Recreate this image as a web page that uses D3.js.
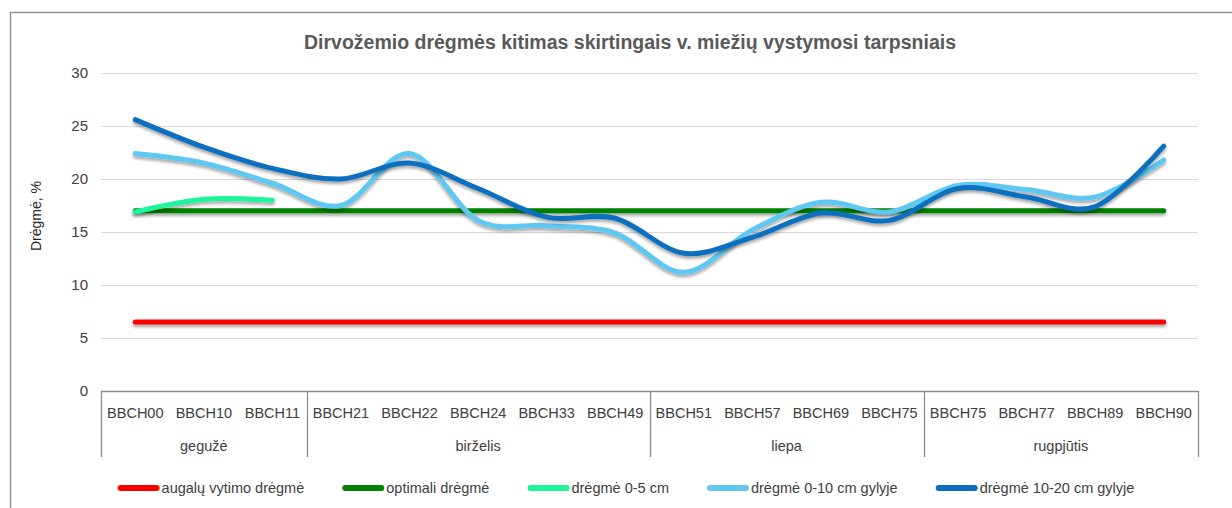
<!DOCTYPE html>
<html>
<head>
<meta charset="utf-8">
<script src="https://cdn.jsdelivr.net/npm/d3@7"></script>
<style>
  body { margin: 0; background: #fff; }
  svg { display: block; }
</style>
</head>
<body>
<div id="chart"></div>
<script>
// chart data
var stages = ["BBCH00", "BBCH10", "BBCH11", "BBCH21", "BBCH22", "BBCH24", "BBCH33", "BBCH49",
              "BBCH51", "BBCH57", "BBCH69", "BBCH75", "BBCH75", "BBCH77", "BBCH89", "BBCH90"];
var months = ["gegužė", "birželis", "liepa", "rugpjūtis"];
var monthSizes = [3, 5, 4, 4];
var yTicks = [0, 5, 10, 15, 20, 25, 30];

var wilting = [6.5, 6.5, 6.5, 6.5, 6.5, 6.5, 6.5, 6.5, 6.5, 6.5, 6.5, 6.5, 6.5, 6.5, 6.5, 6.5];
var optimal = [17, 17, 17, 17, 17, 17, 17, 17, 17, 17, 17, 17, 17, 17, 17, 17];
var moist0_5 = [16.9, 18.1, 18.0];
var moist0_10 = [22.4, 21.5, 19.6, 17.5, 22.4, 16.1, 15.6, 14.9, 11.2, 15.2, 17.8, 16.9, 19.4, 19.0, 18.3, 21.8];
var moist10_20 = [25.6, 23.0, 21.0, 20.0, 21.5, 19.1, 16.4, 16.3, 13.0, 14.5, 16.8, 16.1, 19.1, 18.3, 17.4, 23.1];

var series = [
  { name: "augalų vytimo drėgmė", values: wilting, color: "#ff0000" },
  { name: "optimali drėgmė", values: optimal, color: "#008000" },
  { name: "drėgmė 0-5 cm", values: moist0_5, color: "#1ef59a" },
  { name: "drėgmė 0-10 cm gylyje", values: moist0_10, color: "#5ec8f2" },
  { name: "drėgmė 10-20 cm gylyje", values: moist10_20, color: "#0b6fbf" }
];

var width = 1232, height = 508;
var plot = { left: 101, right: 1198, top: 73, bottom: 391 };
var font = "'Liberation Sans', Arial, sans-serif";

var svg = d3.select("#chart").append("svg")
    .attr("width", width)
    .attr("height", height);

// soft shadow under the lines (user space so flat lines keep it)
var defs = svg.append("defs");
var shadow = defs.append("filter").attr("id", "shadow")
    .attr("filterUnits", "userSpaceOnUse")
    .attr("x", 0).attr("y", 0).attr("width", width).attr("height", height);
shadow.append("feDropShadow")
    .attr("dx", 0).attr("dy", 2.5).attr("stdDeviation", 1.5)
    .attr("flood-color", "#000").attr("flood-opacity", 0.35);

// chart border (runs off the right and bottom edge)
svg.append("rect")
    .attr("x", 10.5).attr("y", 12.5)
    .attr("width", 1300).attr("height", 600)
    .attr("fill", "none").attr("stroke", "#8c8c8c").attr("stroke-width", 1.3);

// title
svg.append("text")
    .attr("x", 630).attr("y", 49)
    .attr("text-anchor", "middle")
    .style("font-family", "'Liberation Sans Narrow', 'Liberation Sans', sans-serif")
    .style("font-weight", "bold")
    .style("font-size", "19.5px")
    .style("fill", "#595959")
    .text("Dirvožemio drėgmės kitimas skirtingais v. miežių vystymosi tarpsniais");

var x = d3.scaleBand()
    .domain(d3.range(stages.length))
    .range([plot.left, plot.right]);

var y = d3.scaleLinear()
    .domain([0, 30])
    .range([plot.bottom, plot.top]);

// gridlines
svg.append("g")
    .selectAll("line")
    .data(yTicks.filter(function(d) { return d > 0; }))
    .enter().append("line")
    .attr("x1", plot.left).attr("x2", plot.right)
    .attr("y1", function(d) { return Math.round(y(d)) + 0.5; })
    .attr("y2", function(d) { return Math.round(y(d)) + 0.5; })
    .attr("stroke", "#d9d9d9").attr("stroke-width", 1.2);

// y axis labels
var yAxis = svg.append("g")
    .attr("transform", "translate(" + (plot.left - 13) + ",0)")
    .call(d3.axisLeft(y).tickValues(yTicks).tickSize(0).tickPadding(0));
yAxis.select(".domain").remove();
yAxis.selectAll("text")
    .style("font-family", font)
    .style("font-size", "15px")
    .style("fill", "#404040");

// y axis title
svg.append("text")
    .attr("transform", "translate(41,216) rotate(-90)")
    .attr("text-anchor", "middle")
    .style("font-family", font)
    .style("font-size", "14px")
    .style("fill", "#262626")
    .text("Drėgmė, %");

// category axis: line, stage labels, month boxes
var axisColor = "#8a8a8a";
var boxBottom = 457;
svg.append("line")
    .attr("x1", plot.left).attr("x2", plot.right)
    .attr("y1", plot.bottom + 0.5).attr("y2", plot.bottom + 0.5)
    .attr("stroke", axisColor).attr("stroke-width", 1.3);

svg.append("g")
    .selectAll("text")
    .data(stages)
    .enter().append("text")
    .attr("x", function(d, i) { return x(i) + x.bandwidth() / 2; })
    .attr("y", 418)
    .attr("text-anchor", "middle")
    .style("font-family", font)
    .style("font-size", "14.5px")
    .style("fill", "#404040")
    .text(function(d) { return d; });

var bounds = [0];
monthSizes.forEach(function(n, i) { bounds.push(bounds[i] + n); });

svg.append("g")
    .selectAll("line")
    .data(bounds)
    .enter().append("line")
    .attr("x1", function(d) { return Math.round(plot.left + d * x.step()) + 0.5; })
    .attr("x2", function(d) { return Math.round(plot.left + d * x.step()) + 0.5; })
    .attr("y1", plot.bottom).attr("y2", boxBottom)
    .attr("stroke", axisColor).attr("stroke-width", 1.3);

svg.append("g")
    .selectAll("text")
    .data(months)
    .enter().append("text")
    .attr("x", function(d, i) { return plot.left + (bounds[i] + bounds[i + 1]) / 2 * x.step(); })
    .attr("y", 451)
    .attr("text-anchor", "middle")
    .style("font-family", font)
    .style("font-size", "14.5px")
    .style("fill", "#404040")
    .text(function(d) { return d; });

// smoothed lines
var line = d3.line()
    .x(function(d, i) { return x(i) + x.bandwidth() / 2; })
    .y(function(d) { return y(d); })
    .curve(d3.curveCardinal.tension(0));

svg.append("g")
    .selectAll("path")
    .data(series)
    .enter().append("path")
    .attr("d", function(d) { return line(d.values); })
    .attr("fill", "none")
    .attr("stroke", function(d) { return d.color; })
    .attr("stroke-width", 5)
    .attr("stroke-linecap", "round")
    .attr("stroke-linejoin", "round")
    .attr("filter", "url(#shadow)");

// legend
var legend = svg.append("g").attr("transform", "translate(0,488)");
var swatch = 42, gap = 2, itemGap = 38;
var items = legend.selectAll("g")
    .data(series)
    .enter().append("g");

items.append("line")
    .attr("x1", 3).attr("x2", swatch - 3)
    .attr("y1", 0).attr("y2", 0)
    .attr("stroke", function(d) { return d.color; })
    .attr("stroke-width", 6)
    .attr("stroke-linecap", "round");

items.append("text")
    .attr("x", swatch + gap)
    .attr("y", 5)
    .style("font-family", font)
    .style("font-size", "14.5px")
    .style("fill", "#404040")
    .text(function(d) { return d.name; });

var offsets = [], total = 0;
items.each(function() {
  var w = swatch + gap + d3.select(this).select("text").node().getComputedTextLength();
  offsets.push(total);
  total += w + itemGap;
});
total -= itemGap;
var start = 626 - total / 2;
items.attr("transform", function(d, i) { return "translate(" + (start + offsets[i]) + ",0)"; });
</script>
</body>
</html>
